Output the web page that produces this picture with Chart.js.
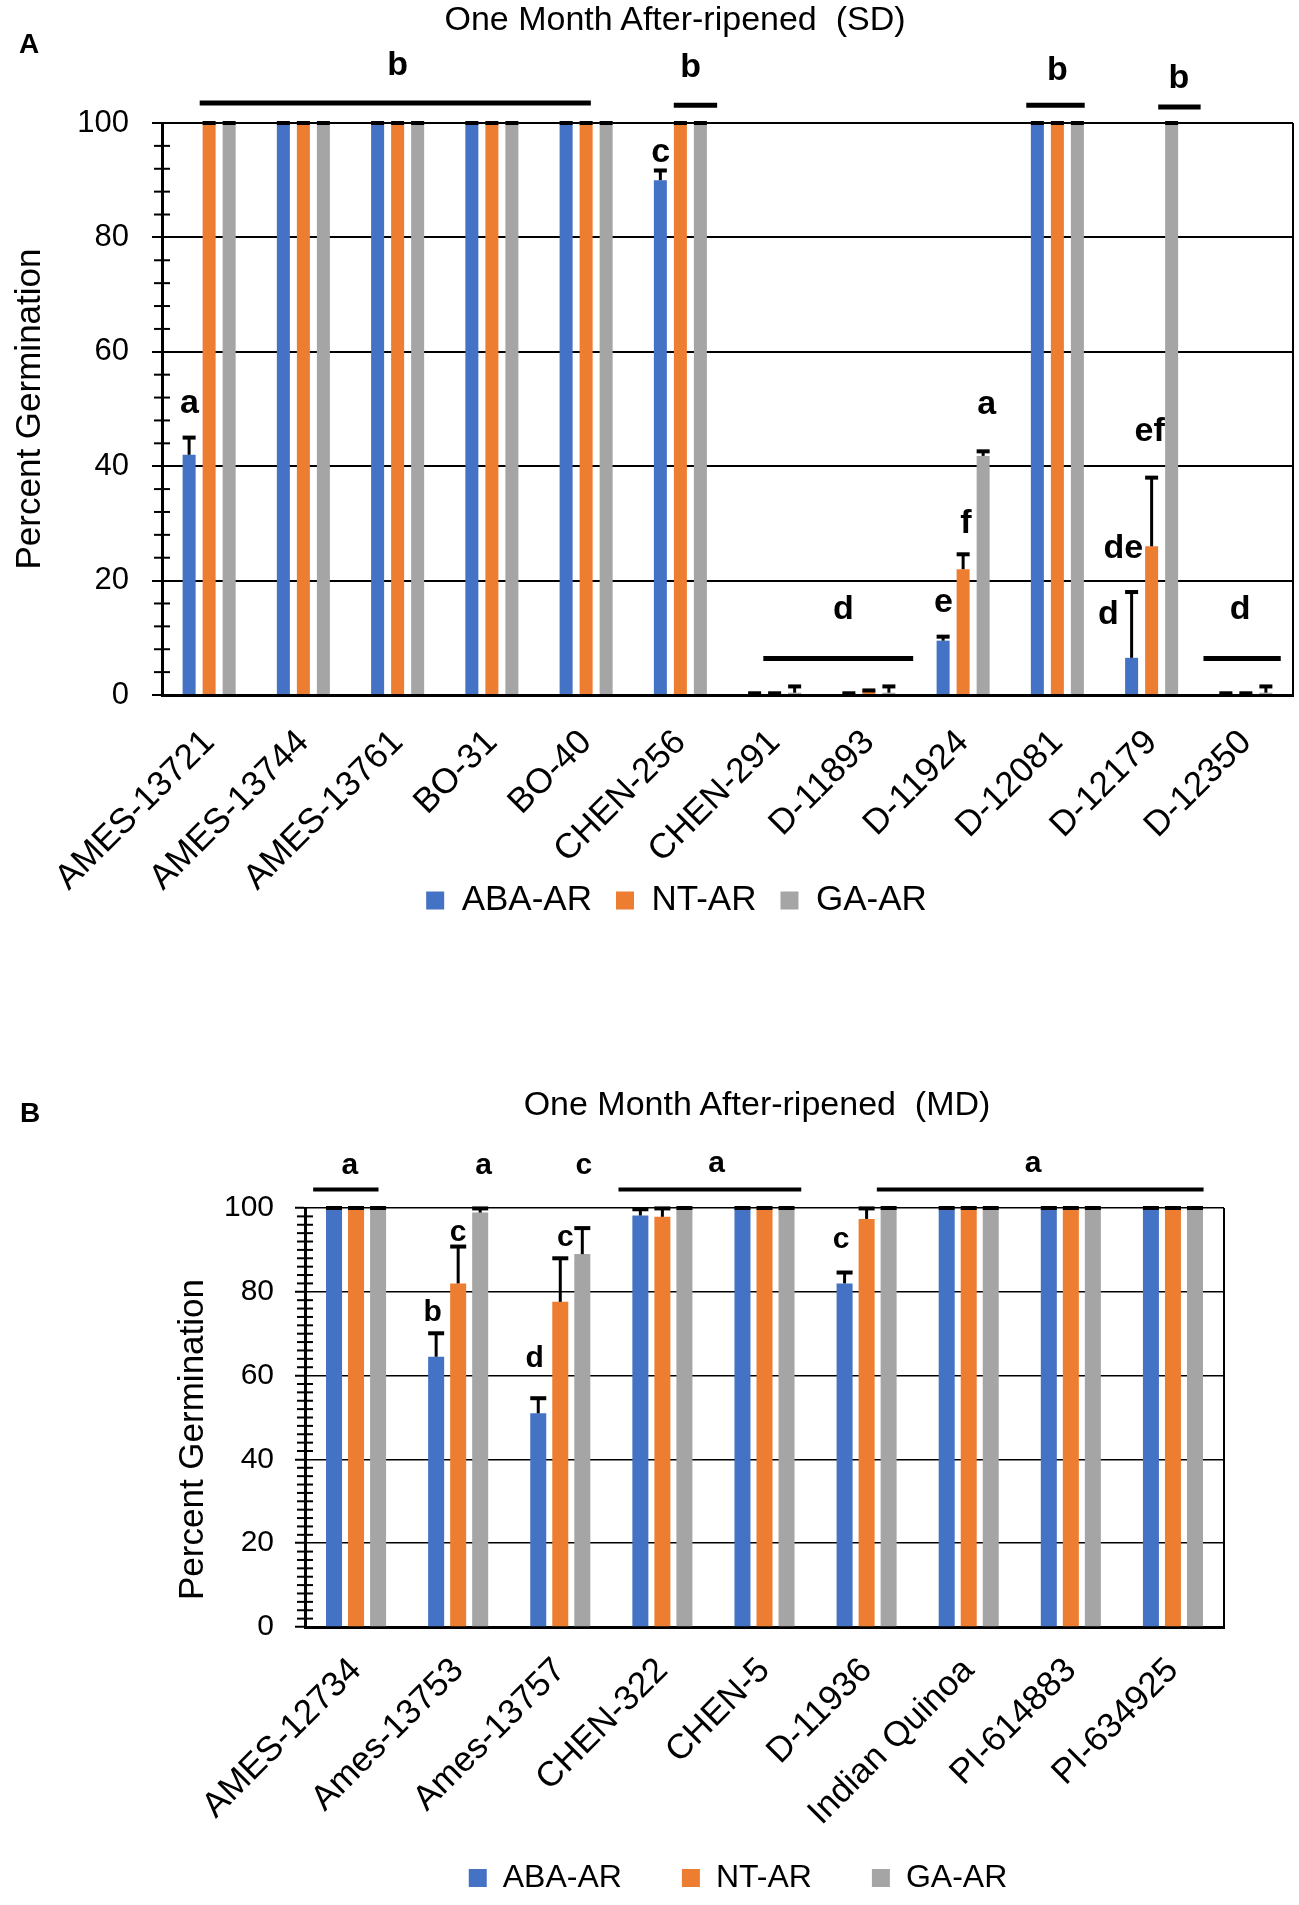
<!DOCTYPE html>
<html>
<head>
<meta charset="utf-8">
<script src="https://cdn.jsdelivr.net/npm/chart.js@4.4.1/dist/chart.umd.min.js"></script>
<style>
html, body { margin: 0; background: #fff; overflow: hidden; }
#page { position: relative; width: 1299px; height: 1905px; overflow: hidden; font-family: 'Liberation Sans', Arial, sans-serif; }
canvas { position: absolute; left: 0; }
.txt { position: absolute; color: #000; white-space: pre; line-height: 40px; }
</style>
</head>
<body>
<div id="page">
  <canvas id="chartA" width="1299" height="979" style="top:0"></canvas>
  <canvas id="chartB" width="1299" height="944" style="top:1000px"></canvas>
  <div class="txt" style="left:19px;top:28px;font-weight:bold;font-size:28px;line-height:32px">A</div>
  <div class="txt" style="left:375px;top:-2px;width:600px;text-align:center;font-size:34px">One Month After-ripened  (SD)</div>
  <div class="txt" style="left:20px;top:1097px;font-weight:bold;font-size:28px;line-height:32px">B</div>
  <div class="txt" style="left:457px;top:1083px;width:600px;text-align:center;font-size:34px">One Month After-ripened  (MD)</div>
</div>
<script>
const FONT = "'Liberation Sans', Arial, sans-serif";
const seriesNames = ['ABA-AR', 'NT-AR', 'GA-AR'];
const colors = ['#4472C4', '#ED7D31', '#A5A5A5'];
const yTicks = [0, 20, 40, 60, 80, 100];

// panel A, one month after-ripened (SD)
const catsA = ['AMES-13721', 'AMES-13744', 'AMES-13761', 'BO-31', 'BO-40', 'CHEN-256',
  'CHEN-291', 'D-11893', 'D-11924', 'D-12081', 'D-12179', 'D-12350'];
const abaA = [42, 100, 100, 100, 100, 90, 0.3, 0.3, 9.5, 100, 6.5, 0.3];
const ntA = [100, 100, 100, 100, 100, 100, 0.3, 0.8, 22, 100, 26, 0.3];
const gaA = [100, 100, 100, 100, 100, 100, 0.4, 0.4, 41.8, 100, 100, 0.4];
const abaErrA = [3, 0, 0, 0, 0, 1.7, 0, 0, 0.7, 0, 11.5, 0];
const ntErrA = [0, 0, 0, 0, 0, 0, 0, 0, 2.6, 0, 12, 0];
const gaErrA = [0, 0, 0, 0, 0, 0, 1.1, 1.1, 0.8, 0, 0, 1.1];
// significance letters: [text, category position, value]
const lettersA = [
  ['a', -0.21, 51], ['b', 2.0, 110], ['c', 4.79, 94.8], ['b', 5.11, 109.6],
  ['d', 6.73, 15], ['e', 7.79, 16.2], ['f', 8.03, 30], ['a', 8.25, 50.7],
  ['b', 9.0, 109.2], ['d', 9.54, 14.1], ['de', 9.7, 25.6], ['ef', 9.98, 46],
  ['b', 10.29, 107.8], ['d', 10.94, 15]
];
// group lines: [from, to, value]
const linesA = [
  [-0.1, 4.05, 103.5], [4.93, 5.39, 103.1], [8.67, 9.29, 103.1],
  [10.07, 10.52, 102.8], [5.88, 7.47, 6.4], [10.55, 11.37, 6.4]
];

// panel B, one month after-ripened (MD)
const catsB = ['AMES-12734', 'Ames-13753', 'Ames-13757', 'CHEN-322', 'CHEN-5',
  'D-11936', 'Indian Quinoa', 'PI-614883', 'PI-634925'];
const abaB = [100, 64.5, 51, 98.2, 100, 82, 100, 100, 100];
const ntB = [100, 82, 77.6, 97.9, 100, 97.4, 100, 100, 100];
const gaB = [100, 98.9, 89, 100, 100, 100, 100, 100, 100];
const abaErrB = [0, 5.6, 3.6, 1.5, 0, 2.6, 0, 0, 0];
const ntErrB = [0, 8.8, 10.4, 2, 0, 2.5, 0, 0, 0];
const gaErrB = [0, 1, 6.2, 0, 0, 0, 0, 0, 0];
const lettersB = [
  ['a', -0.06, 110], ['a', 1.25, 110], ['c', 2.23, 110], ['b', 0.75, 75],
  ['c', 1.0, 94], ['d', 1.75, 64], ['c', 2.05, 93], ['a', 3.53, 110.6],
  ['c', 4.75, 92.5], ['a', 6.63, 110.6]
];
const linesB = [[-0.42, 0.22, 104.4], [2.57, 4.36, 104.4], [5.1, 8.3, 104.4]];

function errorBars(stem, cap) {
  return {
    id: 'errorBars',
    afterDatasetsDraw(chart) {
      const ctx = chart.ctx, y = chart.scales.y;
      chart.data.datasets.forEach((ds, di) => {
        chart.getDatasetMeta(di).data.forEach((bar, i) => {
          const top = y.getPixelForValue(ds.data[i] + ds.errors[i]);
          ctx.save();
          ctx.strokeStyle = '#000';
          if (ds.errors[i] > 0) {
            ctx.lineWidth = stem;
            ctx.beginPath(); ctx.moveTo(bar.x, bar.y); ctx.lineTo(bar.x, top); ctx.stroke();
          }
          ctx.lineWidth = cap;
          ctx.beginPath(); ctx.moveTo(bar.x - bar.width / 2, top); ctx.lineTo(bar.x + bar.width / 2, top); ctx.stroke();
          ctx.restore();
        });
      });
    }
  };
}

// right border, minor ticks and the y title
function frame(minor, titleX, titleDy) {
  return {
    id: 'frame',
    afterDraw(chart) {
      const { ctx, chartArea: a, scales: { y } } = chart;
      ctx.save();
      ctx.strokeStyle = '#000';
      ctx.lineWidth = 2;
      ctx.beginPath(); ctx.moveTo(a.right, a.top); ctx.lineTo(a.right, a.bottom); ctx.stroke();
      for (let v = minor; v < 100; v += minor) {
        if (v % 20 === 0) continue;
        const py = y.getPixelForValue(v);
        ctx.beginPath(); ctx.moveTo(a.left - 8, py); ctx.lineTo(a.left + 8, py); ctx.stroke();
      }
      ctx.translate(titleX, (a.top + a.bottom) / 2 + titleDy);
      ctx.rotate(-Math.PI / 2);
      ctx.fillStyle = '#000';
      ctx.font = '35px ' + FONT;
      ctx.textAlign = 'center';
      ctx.textBaseline = 'middle';
      ctx.fillText('Percent Germination', 0, 0);
      ctx.restore();
    }
  };
}

function marks(letters, lines, size, lw) {
  return {
    id: 'marks',
    afterDraw(chart) {
      const { ctx, scales: { x, y } } = chart;
      ctx.save();
      ctx.fillStyle = '#000';
      ctx.strokeStyle = '#000';
      ctx.lineWidth = lw;
      lines.forEach(([a, b, v]) => {
        const py = y.getPixelForValue(v);
        ctx.beginPath(); ctx.moveTo(x.getPixelForValue(a), py); ctx.lineTo(x.getPixelForValue(b), py); ctx.stroke();
      });
      ctx.font = 'bold ' + size + 'px ' + FONT;
      ctx.textAlign = 'center';
      ctx.textBaseline = 'middle';
      letters.forEach(([t, p, v]) => ctx.fillText(t, x.getPixelForValue(p), y.getPixelForValue(v)));
      ctx.restore();
    }
  };
}

// move the legend box after layout
function legendShift(dx, dy) {
  return {
    id: 'legendShift',
    afterLayout(chart) {
      const lg = chart.legend;
      lg.left += dx; lg.right += dx;
      lg.top += dy; lg.bottom += dy;
    }
  };
}

function makeChart(id, o) {
  return new Chart(document.getElementById(id), {
    type: 'bar',
    data: {
      labels: o.cats,
      datasets: o.values.map((v, k) => ({
        label: seriesNames[k],
        data: v,
        errors: o.errors[k],
        backgroundColor: colors[k],
        borderWidth: 0,
        categoryPercentage: o.catPct,
        barPercentage: o.barPct
      }))
    },
    options: {
      responsive: false,
      animation: false,
      devicePixelRatio: 1,
      layout: { padding: o.pad },
      scales: {
        x: {
          grid: { display: false },
          border: { display: true, color: '#000', width: 3 },
          ticks: { color: '#000', font: { size: o.xFont, family: FONT }, minRotation: 45, maxRotation: 45, autoSkip: false, padding: o.xPad },
          afterFit: s => { s.height = o.xHeight; }
        },
        y: {
          min: 0,
          max: 100,
          afterBuildTicks: s => { s.ticks = yTicks.map(v => ({ value: v })); },
          grid: { color: '#000', lineWidth: o.gridW, tickLength: 10, tickColor: '#000', tickWidth: 2 },
          border: { display: true, color: '#000', width: 3 },
          ticks: { color: '#000', font: { size: o.yFont, family: FONT }, padding: o.yPad },
          afterFit: s => { s.width = o.yWidth; }
        }
      },
      plugins: {
        legend: {
          position: 'bottom',
          labels: { color: '#000', font: { size: o.legFont, family: FONT }, boxWidth: 18, boxHeight: 18, padding: o.legPad }
        },
        tooltip: { enabled: false }
      }
    },
    plugins: [errorBars(o.stem, o.cap), frame(o.minor, o.titleX, o.titleDy),
      marks(o.letters, o.lines, o.letterSize, o.lineW), legendShift(o.legDx, o.legDy)]
  });
}

makeChart('chartA', {
  cats: catsA, values: [abaA, ntA, gaA], errors: [abaErrA, ntErrA, gaErrA],
  letters: lettersA, lines: linesA,
  pad: { left: 0, right: 6, top: 123, bottom: 0 },
  yWidth: 162, xHeight: 215, titleX: 30, titleDy: 0, yPad: 23, yFont: 31, xFont: 35, xPad: 19,
  legFont: 35, legPad: 24, legDx: 30, legDy: -51, catPct: 0.637, barPct: 0.65,
  gridW: 2, minor: 4, stem: 3, cap: 4, letterSize: 34, lineW: 5
});

makeChart('chartB', {
  cats: catsB, values: [abaB, ntB, gaB], errors: [abaErrB, ntErrB, gaErrB],
  letters: lettersB, lines: linesB,
  pad: { left: 160, right: 75, top: 208, bottom: 0 },
  yWidth: 145, xHeight: 215, titleX: 193, titleDy: 22, yPad: 21, yFont: 30, xFont: 35, xPad: 15,
  legFont: 32, legPad: 60, legDx: 46, legDy: -40, catPct: 0.647, barPct: 0.727,
  gridW: 1.5, minor: 2, stem: 3, cap: 4, letterSize: 30, lineW: 4
});
</script>
</body>
</html>
